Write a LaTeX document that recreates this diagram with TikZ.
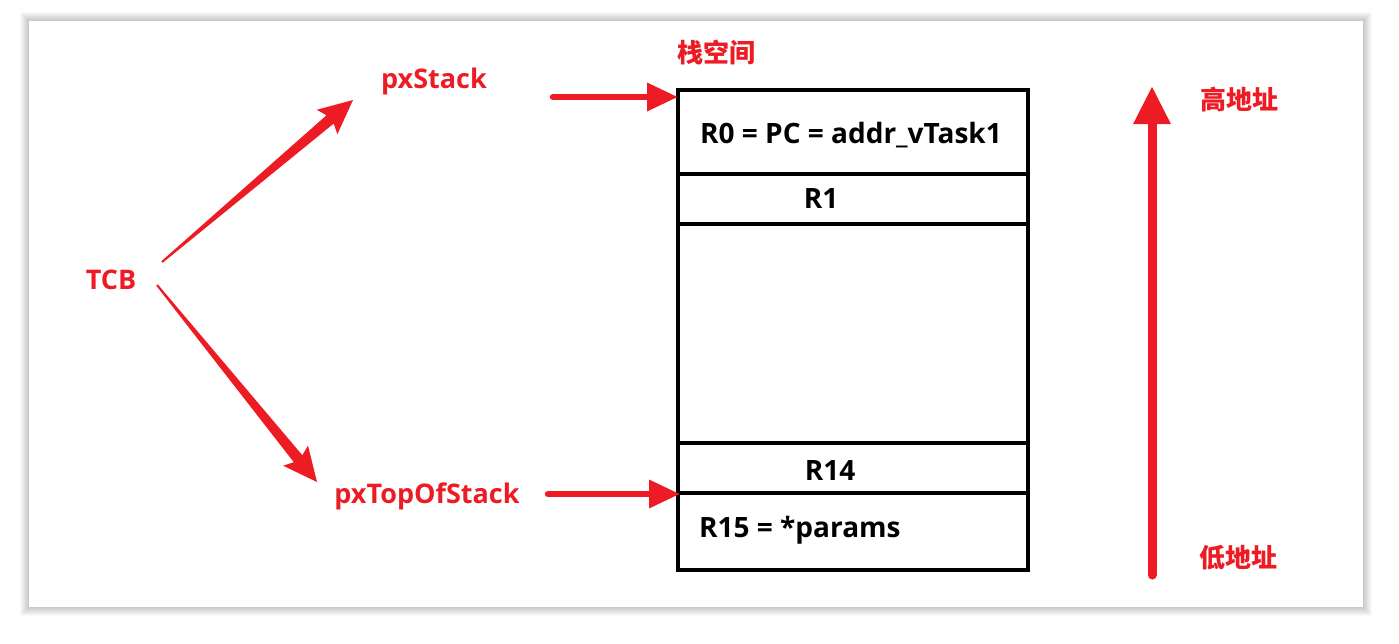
\documentclass[tikz,border=0pt]{standalone}
\usepackage{fontspec}
\setmainfont{Open Sans}
\newfontfamily\cjk{Noto Sans CJK SC}
\usetikzlibrary{arrows.meta,calc}
\definecolor{arrred}{HTML}{ED1C24}
\newcommand{\taperarrow}[2]{%
  \fill[arrred] let \p1=(#1), \p2=(#2), \n1={atan2(\y2-\y1,\x2-\x1)}, \n2={veclen(\x2-\x1,\y2-\y1)} in
  [shift={(\p1)}, rotate=\n1] (0pt,-1pt) -- ({\n2-30pt},-5.5pt) -- ({\n2-34pt},-16pt) -- ({\n2},0pt)
  -- ({\n2-34pt},16pt) -- ({\n2-30pt},5.5pt) -- (0pt,1pt) -- cycle;}
\begin{document}
\begin{tikzpicture}[x=1pt,y=-1pt,
  rlab/.style={text=arrred,font=\bfseries\fontsize{27}{30}\selectfont,inner sep=0pt},
  clab/.style={text=arrred,font=\cjk\bfseries\fontsize{26}{28}\selectfont,inner sep=0pt},
  blab/.style={text=black,font=\bfseries\fontsize{28}{31}\selectfont,inner sep=0pt},
  sep/.style={line width=4pt,line cap=round},
  harrow/.style={arrred,line width=6.5pt,line cap=round,-{Triangle[length=31pt,width=27pt]}},
]
\useasboundingbox (0,0) rectangle (1399,643);
\fill[white] (0,0) rectangle (1399,643);
% card shadow
\foreach \i in {9,...,1}{
  \fill[black,opacity=0.025] (29-\i,21-\i) rectangle (1363+\i,607+\i);
}
\fill[white] (29,21) rectangle (1363,607);
% stack box
\node[draw,line width=4pt,outer sep=0pt,inner sep=0pt,minimum width=350pt,minimum height=480pt,anchor=north west] (stackbox) at (678,90) {};
\draw[sep] (stackbox.west |- 0,174) -- (stackbox.east |- 0,174);
\draw[sep] (stackbox.west |- 0,224) -- (stackbox.east |- 0,224);
\draw[sep] (stackbox.west |- 0,443) -- (stackbox.east |- 0,443);
\draw[sep] (stackbox.west |- 0,493) -- (stackbox.east |- 0,493);
\node[blab] (r0) at (851,135) {R0 = PC = addr\_vTask1};
\node[blab] (r1) at (821,199) {R1};
\node[blab] (r14) at (830,470) {R14};
\node[blab,anchor=west] (r15) at (699,530) {R15 = *params};
% labels
\node[clab] (stk) at (716,52) {栈空间};
\node[rlab] (pxs) at (434,81) {pxStack};
\node[rlab] (tcb) at (111,280) {TCB};
\node[rlab] (pxt) at (427,496) {pxTopOfStack};
\node[clab] (hi) at (1239,99) {高地址};
\node[clab] (lo) at (1238,558) {低地址};
% connectors
\coordinate (t1) at (162,262);
\coordinate (h1) at (353,100);
\coordinate (t2) at (157,285);
\coordinate (h2) at (317,482);
\taperarrow{t1}{h1}
\taperarrow{t2}{h2}
\coordinate (s1) at (553,97);
\coordinate (s2) at (548,494);
\draw[harrow] (s1) -- (stackbox.west |- s1);
\draw[harrow] (s2) -- ($(stackbox.west |- s2)+(2,0)$);
\coordinate (vb) at (1152,575);
\coordinate (vt) at (1152,86);
\draw[arrred,line width=9pt,line cap=round,-{Triangle[length=38pt,width=35pt]}] (vb) -- (vt);
\end{tikzpicture}
\end{document}
